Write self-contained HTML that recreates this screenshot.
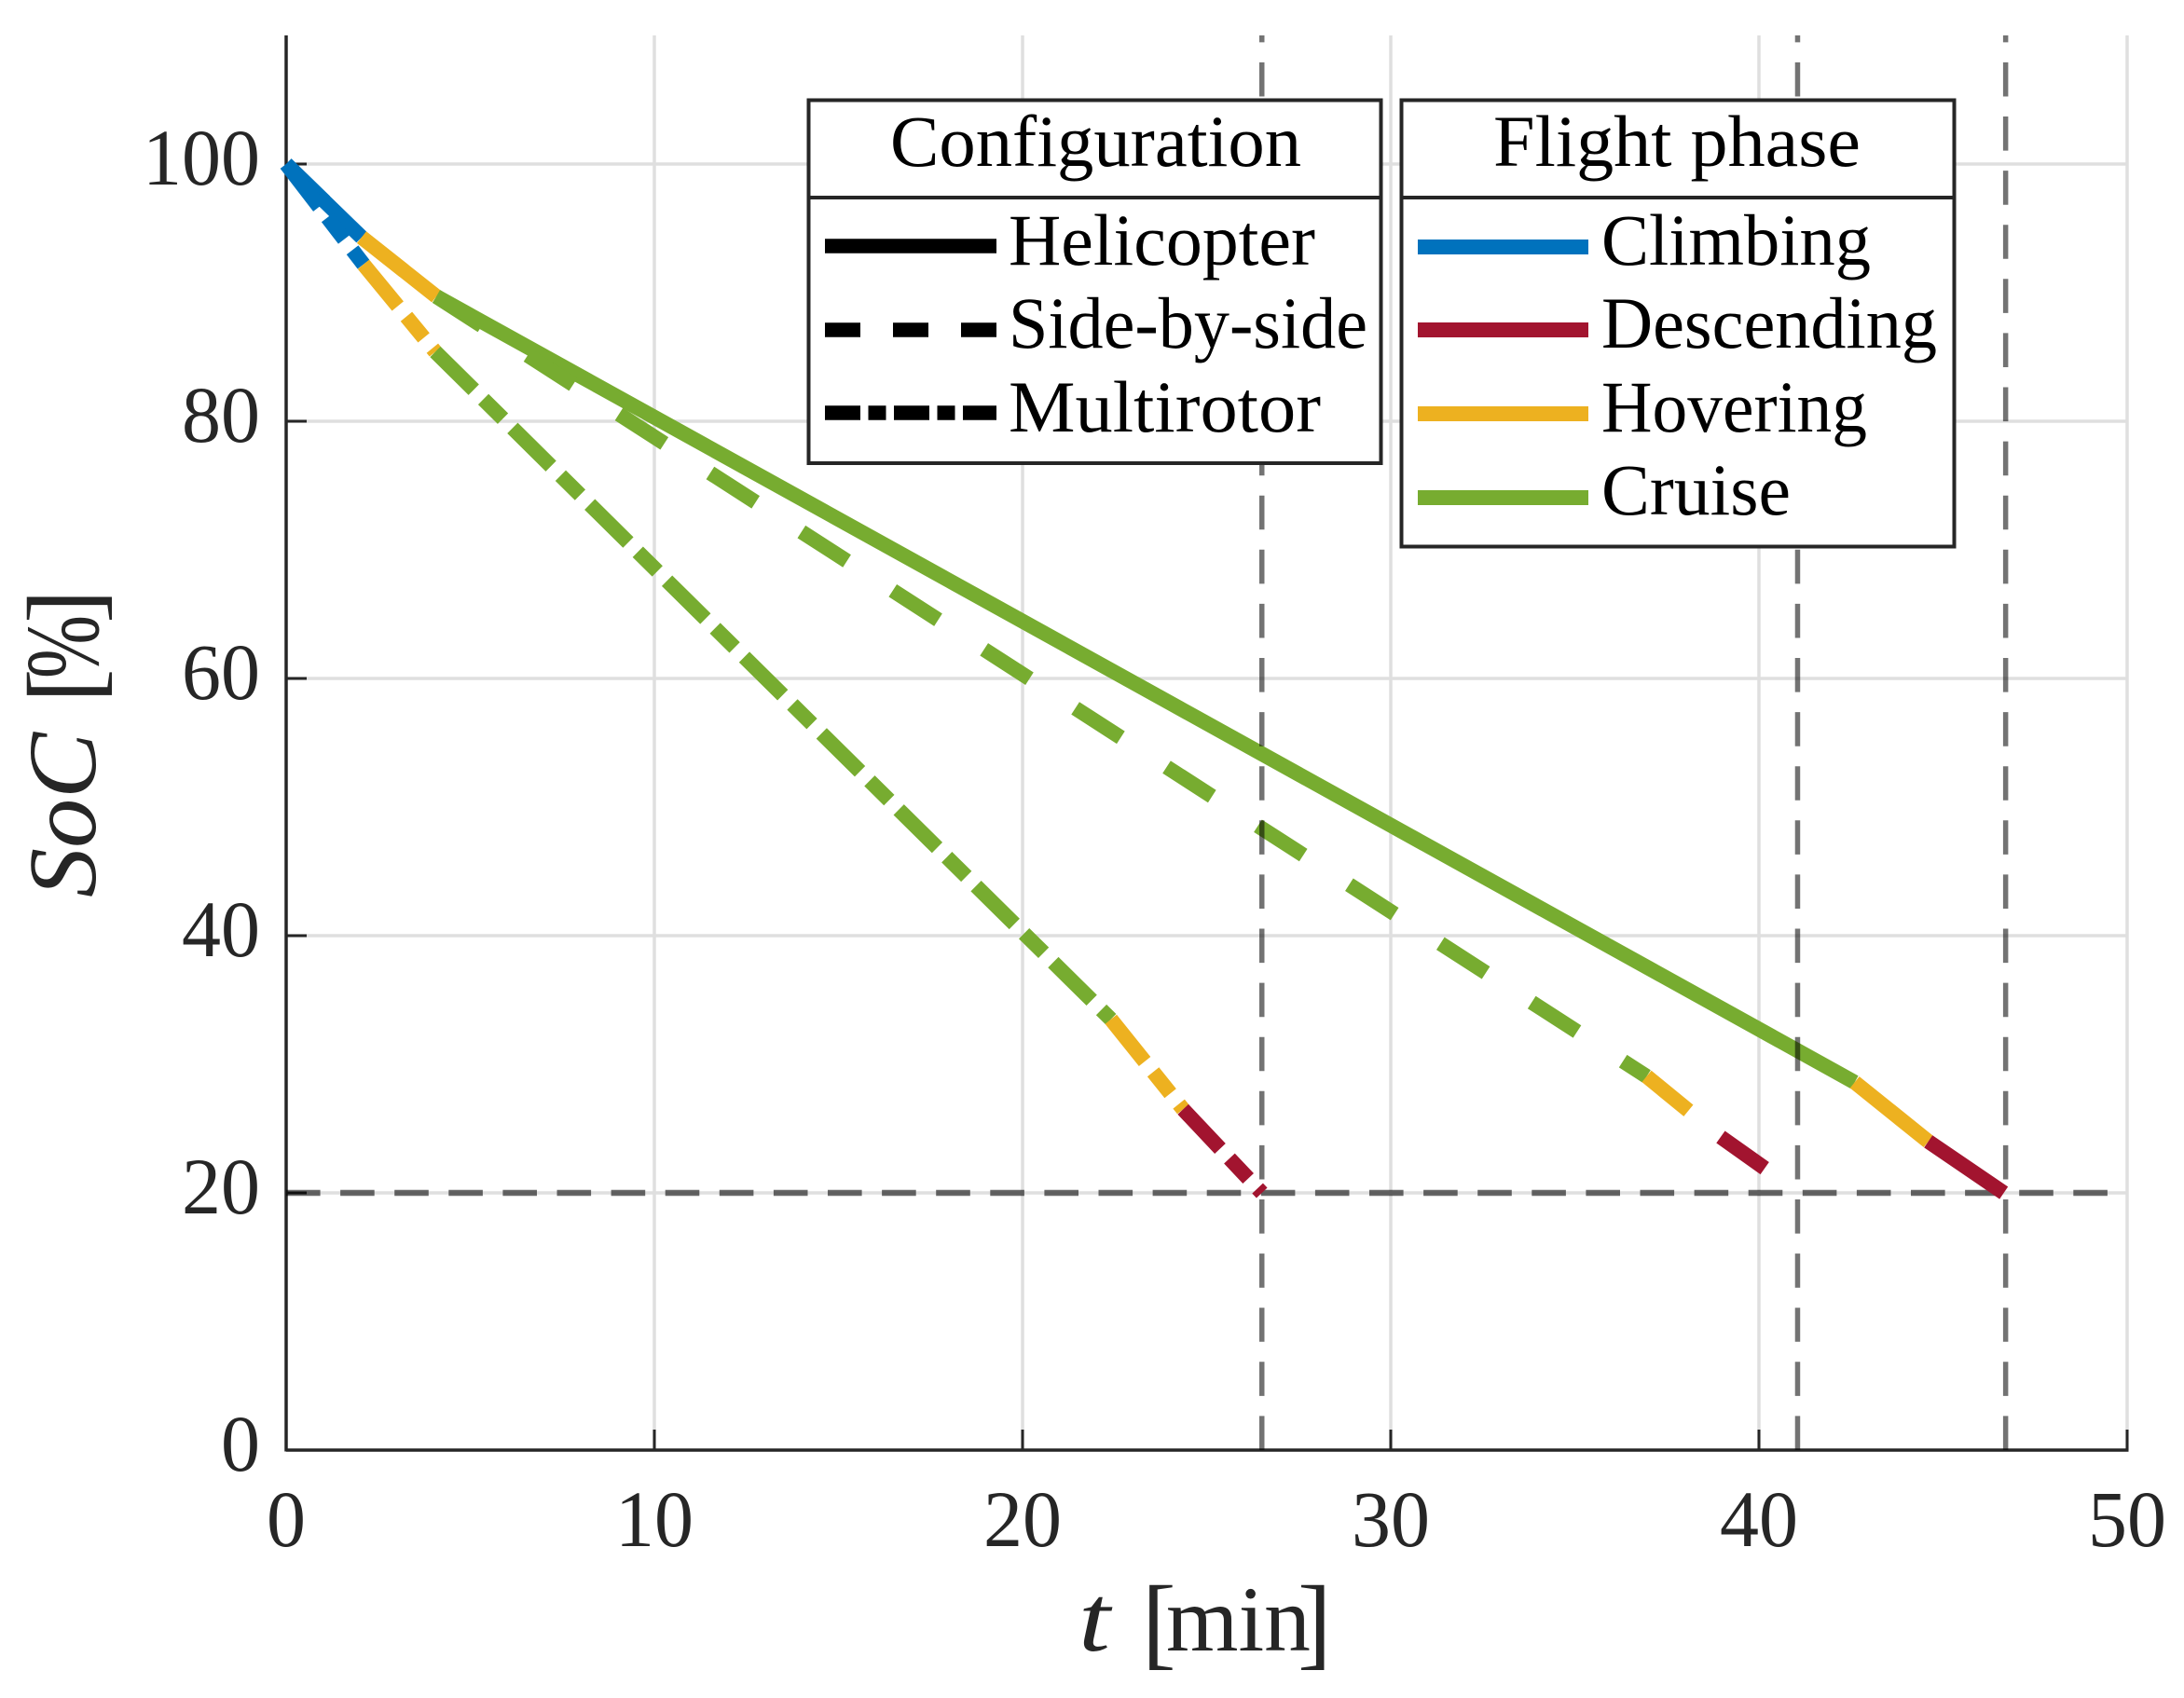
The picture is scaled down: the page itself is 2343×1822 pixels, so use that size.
<!DOCTYPE html>
<html lang="en">
<head>
<meta charset="utf-8">
<title>SoC vs time</title>
<style>
html,body{margin:0;padding:0;background:#fff;width:2343px;height:1822px;overflow:hidden}
svg{display:block}
text{font-family:"Liberation Serif",serif}
</style>
</head>
<body>
<svg id="chart" xmlns="http://www.w3.org/2000/svg" width="2343" height="1822" viewBox="0 0 2343 1822">
  <g id="grid"></g>
  <g id="axes"></g>
  <g id="hrefs"></g>
  <g id="series"></g>
  <g id="vrefs"></g>

  <g fill="#262626">
    <text x="1157" y="1771" font-size="102" font-style="italic" textLength="34" lengthAdjust="spacingAndGlyphs">t</text>
    <text x="1225" y="1777" font-size="110">[</text>
    <text x="1251" y="1771" font-size="100" textLength="155" lengthAdjust="spacingAndGlyphs">min</text>
    <text x="1392" y="1777" font-size="110">]</text>
  </g>
  <g fill="#262626">
    <text transform="translate(102,963) rotate(-90)" font-size="104" font-style="italic" textLength="177" lengthAdjust="spacingAndGlyphs">SoC</text>
    <text transform="translate(105,754) rotate(-90)" font-size="110">[</text>
    <text transform="translate(105,728) rotate(-90)" font-size="112" textLength="68" lengthAdjust="spacingAndGlyphs">%</text>
    <text transform="translate(105,669) rotate(-90)" font-size="110">]</text>
  </g>

  <g>
    <rect x="867.5" y="107.5" width="614" height="389.5" fill="#fff" stroke="#262626" stroke-width="4"/>
    <line x1="867" y1="212" x2="1482" y2="212" stroke="#262626" stroke-width="4"/>
    <text x="955" y="178" font-size="78" fill="#000" textLength="441" lengthAdjust="spacingAndGlyphs">Configuration</text>
    <g>
      <line x1="885" y1="264" x2="1069" y2="264" stroke="#000" stroke-width="15.5"/>
      <text x="1082" y="284" font-size="78" textLength="329" lengthAdjust="spacingAndGlyphs">Helicopter</text>
    </g>
    <g>
      <line x1="885" y1="354" x2="1069" y2="354" stroke="#000" stroke-width="15.5" stroke-dasharray="38 35"/>
      <text x="1082" y="373" font-size="78" textLength="385" lengthAdjust="spacingAndGlyphs">Side-by-side</text>
    </g>
    <g>
      <line x1="885" y1="443" x2="1069" y2="443" stroke="#000" stroke-width="15.5" stroke-dasharray="38 8.5 19 8.5"/>
      <text x="1082" y="463" font-size="78" textLength="335" lengthAdjust="spacingAndGlyphs">Multirotor</text>
    </g>
  </g>

  <g>
    <rect x="1503.5" y="107.5" width="593" height="479" fill="#fff" stroke="#262626" stroke-width="4"/>
    <line x1="1503" y1="212" x2="2097" y2="212" stroke="#262626" stroke-width="4"/>
    <text x="1602" y="178" font-size="78" fill="#000" textLength="394" lengthAdjust="spacingAndGlyphs">Flight phase</text>
    <g>
      <line x1="1521" y1="265" x2="1704" y2="265" stroke="#0072BD" stroke-width="16"/>
      <text x="1718" y="284" font-size="78" textLength="289" lengthAdjust="spacingAndGlyphs">Climbing</text>
    </g>
    <g>
      <line x1="1521" y1="354" x2="1704" y2="354" stroke="#A2142F" stroke-width="16"/>
      <text x="1718" y="373" font-size="78" textLength="360" lengthAdjust="spacingAndGlyphs">Descending</text>
    </g>
    <g>
      <line x1="1521" y1="444" x2="1704" y2="444" stroke="#EDB120" stroke-width="16"/>
      <text x="1718" y="463" font-size="78" textLength="285" lengthAdjust="spacingAndGlyphs">Hovering</text>
    </g>
    <g>
      <line x1="1521" y1="534" x2="1704" y2="534" stroke="#77AC30" stroke-width="16"/>
      <text x="1718" y="552" font-size="78" textLength="203" lengthAdjust="spacingAndGlyphs">Cruise</text>
    </g>
  </g>
</svg>

<script>
// Axis ticks
const xTicks = [0, 10, 20, 30, 40, 50];
const yTicks = [0, 20, 40, 60, 80, 100];
const xMax = 50;
const yMax = 110;

// Phase of each segment between consecutive breakpoints
const phases = ['climbing', 'hovering', 'cruise', 'hovering', 'descending'];

// Series breakpoints: time [min] and SoC [%]
const helicopterTime = [0, 2.05, 4.08, 42.6, 44.6, 46.65];
const helicopterSoC = [100, 94.3, 89.7, 28.6, 24, 20];
const sideBySideTime = [0, 2.05, 4.08, 36.95, 38.96, 41.1];
const sideBySideSoC = [100, 94.3, 89.7, 29.06, 24.35, 20];
const multirotorTime = [0, 2.1, 4.05, 22.4, 24.36, 26.5];
const multirotorSoC = [100, 92.2, 85.4, 33.5, 26.5, 20];

// Reference lines
const socLimit = 20;
const enduranceTimes = [26.5, 41.05, 46.7];

const NS = 'http://www.w3.org/2000/svg';
const plotLeft = 307, plotRight = 2282, plotBottom = 1556, plotTop = 38;
const xScale = t => plotLeft + (plotRight - plotLeft) * t / xMax;
const yScale = s => plotBottom - (plotBottom - plotTop) * s / yMax;
const phaseColor = {climbing:'#0072BD', hovering:'#EDB120', cruise:'#77AC30', descending:'#A2142F'};

function make(parent, tag, attrs, text) {
  const el = document.createElementNS(NS, tag);
  for (const k in attrs) el.setAttribute(k, attrs[k]);
  if (text !== undefined) el.textContent = text;
  parent.appendChild(el);
  return el;
}

const gridG = document.getElementById('grid');
const axesG = document.getElementById('axes');

xTicks.forEach(t => {
  if (t > 0) {
    const g = make(gridG, 'line', {x1:xScale(t), x2:xScale(t), y1:plotBottom, y2:plotTop, stroke:'#dfdfdf', 'stroke-width':3.5});
    
    
  }
  const tick = make(axesG, 'line', {x1:xScale(t), x2:xScale(t), y1:plotBottom, y2:plotBottom - 22, stroke:'#262626', 'stroke-width':3});
  
  
  const label = make(axesG, 'text', {x:xScale(t), y:1659, 'text-anchor':'middle', 'font-size':86, fill:'#262626', textLength:String(t).length * 42, lengthAdjust:'spacingAndGlyphs'}, String(t));
  
  
});

yTicks.forEach(s => {
  if (s > 0) {
    const g = make(gridG, 'line', {x1:plotLeft, x2:plotRight, y1:yScale(s), y2:yScale(s), stroke:'#dfdfdf', 'stroke-width':3.5});
    
    
  }
  const tick = make(axesG, 'line', {x1:plotLeft, x2:plotLeft + 22, y1:yScale(s), y2:yScale(s), stroke:'#262626', 'stroke-width':3});
  
  
  const w = String(s).length * 42;
  const label = make(axesG, 'text', {x:279 - w, y:yScale(s) + 22, 'font-size':86, fill:'#262626', textLength:w, lengthAdjust:'spacingAndGlyphs'}, String(s));
  
  
});

const yAxisLine = make(axesG, 'line', {x1:plotLeft, x2:plotLeft, y1:plotBottom + 1.5, y2:plotTop, stroke:'#262626', 'stroke-width':3.5});


const xAxisLine = make(axesG, 'line', {x1:plotLeft, x2:plotRight + 1.5, y1:plotBottom, y2:plotBottom, stroke:'#262626', 'stroke-width':3.5});



const limitLine = make(document.getElementById('hrefs'), 'line', {x1:plotLeft, x2:plotRight, y1:yScale(socLimit), y2:yScale(socLimit), stroke:'#000', 'stroke-opacity':0.58, 'stroke-width':6.5, 'stroke-dasharray':'36.6 21.5'});



const seriesG = document.getElementById('series');
function drawSeries(name, times, socs, dash) {
  phases.forEach((phase, i) => {
    const seg = make(seriesG, 'line', {
      x1:xScale(times[i]), y1:yScale(socs[i]), x2:xScale(times[i + 1]), y2:yScale(socs[i + 1]),
      stroke:phaseColor[phase], 'stroke-width':16, 'stroke-linecap':'butt'
    });
    if (dash) seg.setAttribute('stroke-dasharray', dash);
    
    
  });
}
drawSeries('helicopter', helicopterTime, helicopterSoC, null);
drawSeries('side-by-side', sideBySideTime, sideBySideSoC, '58 58.5');
drawSeries('multirotor', multirotorTime, multirotorSoC, '58 14.5 29.5 14.5');

const vG = document.getElementById('vrefs');
enduranceTimes.forEach(t => {
  const v = make(vG, 'line', {x1:xScale(t), x2:xScale(t), y1:plotBottom, y2:plotTop, stroke:'#000', 'stroke-opacity':0.55, 'stroke-width':5.5, 'stroke-dasharray':'36.6 21.5'});
  
  
});
</script>
</body>
</html>
